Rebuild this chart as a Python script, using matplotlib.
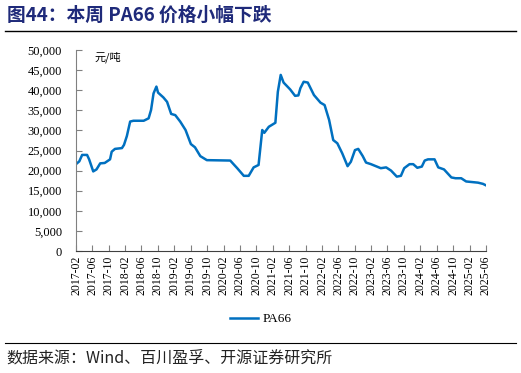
import matplotlib
matplotlib.use("Agg")
import matplotlib.pyplot as plt
import numpy as np
import pandas as pd

plt.rcParams['font.family'] = ['Liberation Serif', 'Noto Sans CJK SC']

# months since 2017-02 -> PA66 price (yuan/ton)
months = [0, 0.8, 1.5, 2.7, 3.2, 4.2, 5.0, 5.9, 7.0, 8.3, 8.7, 9.5, 11.2, 11.7, 12.4, 13.2, 14.0,
          16.5, 17.7, 18.3, 18.9, 19.6, 20.0, 21.3, 22.2, 23.2, 24.2, 25.4, 26.7, 28.0, 29.0,
          30.3, 31.9, 37.6, 38.4, 39.3, 40.9, 42.1, 43.3, 44.5, 45.4, 45.9, 47.0, 48.6, 49.2,
          49.9, 50.6, 52.2, 53.4, 54.2, 54.7, 55.5, 56.5, 58.0, 59.6, 60.6, 61.7, 62.7, 63.7,
          64.9, 66.2, 67.0, 68.0, 68.8, 69.9, 70.7, 71.9, 73.1, 74.3, 75.6, 76.8, 78.2, 79.2,
          80.0, 81.3, 82.2, 83.2, 84.3, 85.0, 85.8, 87.4, 88.3, 89.7, 91.5, 92.5, 93.9, 95.1,
          98.0, 99.2, 100.2]
prices = [21600, 22300, 23900, 23900, 22800, 19800, 20300, 21800, 21900, 22800, 24700, 25400, 25600, 26400, 28600, 32200, 32400,
          32400, 33000, 35100, 39200, 40900, 39400, 38200, 37100, 34100, 33800, 32200, 30100, 26600, 25800,
          23600, 22600, 22500, 21600, 20600, 18700, 18700, 20800, 21400, 30100, 29400, 30900, 31900, 39600,
          43800, 41900, 40200, 38600, 38700, 40500, 42100, 41900, 38800, 36900, 36300, 32600, 27600, 26800,
          24300, 21100, 22200, 25100, 25400, 23600, 22000, 21600, 21100, 20600, 20800, 20000, 18500, 18700,
          20600, 21600, 21600, 20700, 21000, 22500, 22800, 22800, 20800, 20300, 18300, 18100, 18100, 17300,
          17000, 16700, 16200]

tick_labels = ['2017-02', '2017-06', '2017-10', '2018-02', '2018-06', '2018-10', '2019-02', '2019-06',
               '2019-10', '2020-02', '2020-06', '2020-10', '2021-02', '2021-06', '2021-10', '2022-02',
               '2022-06', '2022-10', '2023-02', '2023-06', '2023-10', '2024-02', '2024-06', '2024-10',
               '2025-02', '2025-06']

start = pd.Timestamp('2017-02-01')
dates = [start + pd.Timedelta(days=m * 30.4375) for m in months]
tick_dates = [pd.Timestamp(t + '-01') for t in tick_labels]

fig = plt.figure(figsize=(5.21, 3.73), dpi=100)
ax = fig.add_axes([76/521, 1-251/373, (486-76)/521, (251-50)/373])

line, = ax.plot(dates, prices, color='#0070C0', lw=1.8, label='PA66')

ax.set_ylim(0, 50000)
ax.set_yticks(np.arange(0, 50001, 5000))
ax.set_yticklabels([f'{v:,}' for v in range(0, 50001, 5000)], fontsize=9)
ax.set_xlim(tick_dates[0], tick_dates[-1])
ax.set_xticks(tick_dates)
ax.set_xticklabels(tick_labels, rotation=90, fontsize=8.5)
ax.tick_params(axis='both', direction='in', length=4, width=0.8, color='#808080', pad=3)
ax.tick_params(axis='y', pad=10)

for s in ['top', 'right']:
    ax.spines[s].set_visible(False)
ax.spines['left'].set_color('#808080')
ax.spines['bottom'].set_color('#404040')

ax.text(0.045, 0.995, '元/吨', transform=ax.transAxes, fontsize=8,
        family=['Noto Sans CJK SC'], va='top', ha='left')

fig.legend(handles=[line], loc='center', bbox_to_anchor=(261/521, 1-319/373),
           frameon=False, fontsize=9.5, handlelength=2.1, handletextpad=0.35)

fig.text(7/521, 1-15/373, '图44：本周 PA66 价格小幅下跌', fontsize=13.5, fontweight='bold',
         color='#1F2A7A', family=['Noto Sans CJK SC'], va='center', ha='left')
fig.add_artist(plt.Line2D([5/521, 516/521], [1-31/373, 1-31/373], color='black', lw=1.0))
fig.add_artist(plt.Line2D([5/521, 516/521], [1-343/373, 1-343/373], color='black', lw=0.8))
fig.text(6/521, 1-358/373, '数据来源：Wind、百川盈孚、开源证券研究所', fontsize=11.5,
         family=['Noto Sans CJK SC', 'Liberation Serif'], va='center', ha='left', color='#222222')

fig.savefig('out.png', dpi=100)
